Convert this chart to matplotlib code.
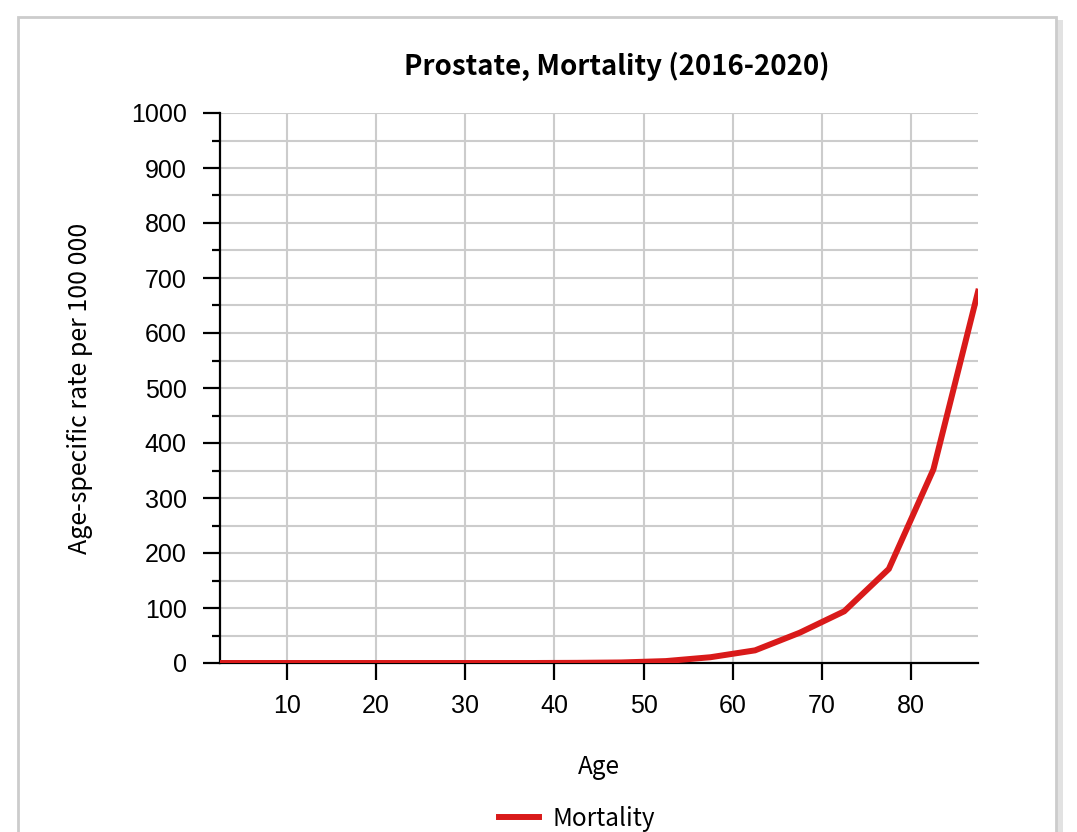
import matplotlib
matplotlib.use("Agg")
import matplotlib.pyplot as plt
from matplotlib.patches import Rectangle
from matplotlib.ticker import MultipleLocator

# age group midpoints and rates per 100 000
ages = [2.5, 7.5, 12.5, 17.5, 22.5, 27.5, 32.5, 37.5, 42.5, 47.5,
        52.5, 57.5, 62.5, 67.5, 72.5, 77.5, 82.5, 87.5]
mortality = [0, 0, 0, 0, 0, 0, 0, 0, 0.3, 1.0,
             3.5, 10.5, 23, 55, 94, 171, 352, 675]
x_ticks = [10, 20, 30, 40, 50, 60, 70, 80]
y_ticks = [0, 100, 200, 300, 400, 500, 600, 700, 800, 900, 1000]

W, H = 1077, 832
fig = plt.figure(figsize=(W / 100, H / 100), dpi=100)

# card frame with a small shadow on the right
fig.patches.append(Rectangle((1057 / W, 0), 6 / W, 1 - 20 / H, transform=fig.transFigure,
                             facecolor="#e2e2e2", edgecolor="none", zorder=0))
fig.patches.append(Rectangle((18 / W, -0.01), (1056 - 18) / W, 1.01 - 17 / H,
                             transform=fig.transFigure, facecolor="white",
                             edgecolor="#cccccc", linewidth=2, zorder=1))

ax = fig.add_axes([220 / W, 1 - 663 / H, (978 - 220) / W, (663 - 113) / H])
ax.set_zorder(2)
ax.plot(ages, mortality, color="#d91a1a", linewidth=4.3, solid_joinstyle="miter",
        clip_on=True, zorder=3, label="Mortality")

ax.set_xlim(2.5, 87.5)
ax.set_ylim(0, 1000)
ax.set_xticks(x_ticks)
ax.set_yticks(y_ticks)
ax.yaxis.set_minor_locator(MultipleLocator(50))
ax.yaxis.grid(True, which="both", color="#cccccc", linewidth=1.5)
ax.xaxis.grid(True, which="major", color="#cccccc", linewidth=1.5)
ax.set_axisbelow(True)

for s in ["top", "right"]:
    ax.spines[s].set_visible(False)
for s in ["left", "bottom"]:
    ax.spines[s].set_linewidth(1.6)
    ax.spines[s].set_color("black")

tick_family = ["Liberation Sans", "DejaVu Sans"]
ax.tick_params(axis="both", which="major", length=12, width=1.6, color="black")
ax.tick_params(axis="y", which="minor", length=6, width=1.6, color="black")
ax.tick_params(axis="y", which="major", pad=12)
ax.tick_params(axis="x", which="major", pad=10)
for lab in ax.get_xticklabels() + ax.get_yticklabels():
    lab.set_fontfamily(tick_family)
    lab.set_fontsize(18)

label_family = ["Noto Sans CJK SC", "DejaVu Sans"]
ax.set_xlabel("Age", fontsize=17.5, family=label_family, labelpad=26)
ax.set_ylabel("Age-specific rate per 100 000", fontsize=18, family=label_family, labelpad=27)
fig.text(617 / W, 1 - 66 / H, "Prostate, Mortality (2016-2020)", ha="center", va="center",
         fontsize=19.9, fontweight="bold", family=label_family)

leg = ax.legend(loc="center", bbox_to_anchor=(577 / W, 1 - 819 / H), bbox_transform=fig.transFigure,
                frameon=False, handlelength=1.65, handletextpad=0.55,
                prop={"family": label_family, "size": 17.5})

fig.savefig("out.png", dpi=100)
